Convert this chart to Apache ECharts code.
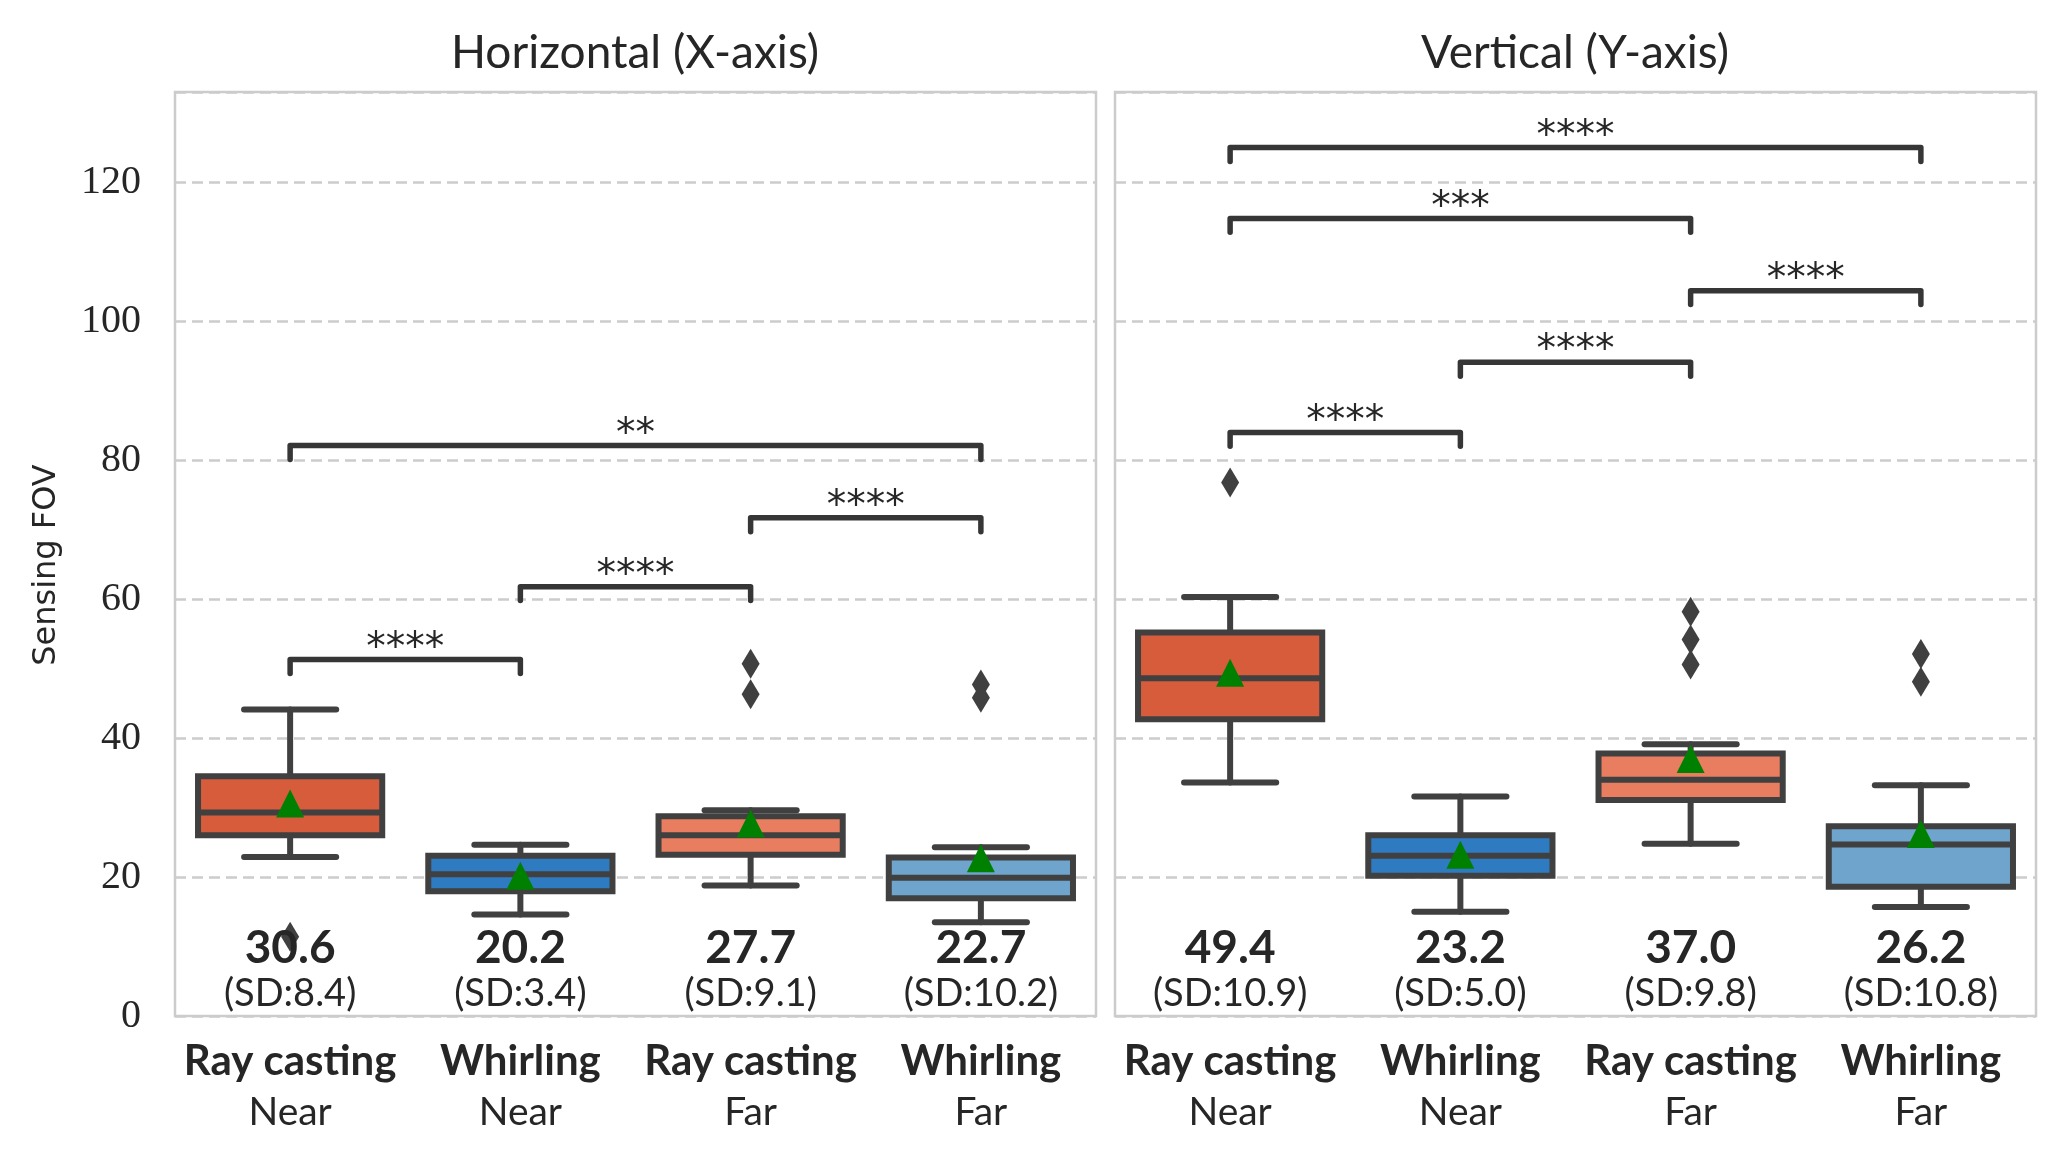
<!DOCTYPE html>
<html>
<head>
<meta charset="utf-8">
<script src="https://cdn.jsdelivr.net/npm/echarts@6/dist/echarts.min.js"></script>
<style>
html,body{margin:0;padding:0;background:#ffffff;}
#chart{width:2064px;height:1154px;}
</style>
</head>
<body>
<div id="chart"></div>
<script>
// ---------------- data ----------------
const techniques = ['Ray casting', 'Whirling', 'Ray casting', 'Whirling'];
const distances = ['Near', 'Near', 'Far', 'Far'];
const categories = ['Ray casting Near', 'Whirling Near', 'Ray casting Far', 'Whirling Far'];
const panelTitles = ['Horizontal (X-axis)', 'Vertical (Y-axis)'];
const yAxisName = 'Sensing FOV';
const yTicks = [0, 20, 40, 60, 80, 100, 120];

// box stats: [lower whisker, Q1, median, Q3, upper whisker]
const horizBox = [
  [22.9, 26.0, 29.3, 34.5, 44.1],
  [14.6, 17.95, 20.4, 23.05, 24.65],
  [18.8, 23.2, 26.0, 28.75, 29.6],
  [13.5, 16.95, 19.9, 22.8, 24.3]
];
const horizMean = [30.6, 20.2, 27.7, 22.7];
const horizSD = [8.4, 3.4, 9.1, 10.2];
const horizOutliers = [[0, 11.4], [2, 50.7], [2, 46.3], [3, 47.7], [3, 45.8]];
// [from category, to category, bracket height, label]
const horizBrackets = [
  [0, 1, 51.3, '****'],
  [1, 2, 61.8, '****'],
  [2, 3, 71.7, '****'],
  [0, 3, 82.1, '**']
];

const vertBox = [
  [33.6, 42.7, 48.6, 55.2, 60.3],
  [15.0, 20.2, 23.05, 26.0, 31.6],
  [24.8, 31.1, 34.0, 37.8, 39.1],
  [15.7, 18.6, 24.7, 27.3, 33.2]
];
const vertMean = [49.4, 23.2, 37.0, 26.2];
const vertSD = [10.9, 5.0, 9.8, 10.8];
const vertOutliers = [[0, 76.8], [2, 58.2], [2, 54.2], [2, 50.6], [3, 52.1], [3, 48.1]];
const vertBrackets = [
  [0, 1, 84.0, '****'],
  [1, 2, 94.1, '****'],
  [2, 3, 104.4, '****'],
  [0, 2, 114.8, '***'],
  [0, 3, 125.0, '****']
];

// ---------------- style ----------------
const BOX_COLORS = ['#d65c3b', '#2f7bc2', '#e87e5f', '#6fa5cd'];
const LINE_GRAY = '#404040';
const BRACKET_COLOR = '#363636';
const TEXT = '#262626';
const SANS = 'Lato, "Noto Sans", sans-serif';
const Y_MAX = 133;
const TICK_LEN = 2.0;
const NUM_LABEL_Y = 9.8;
const SD_LABEL_Y = 3.2;

function boxRenderer(params, api) {
  const i = api.value(0);
  const lo = api.coord([i, api.value(1)]);
  const q1 = api.coord([i, api.value(2)]);
  const med = api.coord([i, api.value(3)]);
  const q3 = api.coord([i, api.value(4)]);
  const hi = api.coord([i, api.value(5)]);
  const band = api.size([1, 0])[0];
  const bw = band * 0.8;
  const cw = bw / 2;
  const cx = med[0];
  const ls = { stroke: LINE_GRAY, lineWidth: 6, lineCap: 'round' };
  return {
    type: 'group',
    children: [
      { type: 'line', shape: { x1: cx, y1: q1[1], x2: cx, y2: lo[1] }, style: ls },
      { type: 'line', shape: { x1: cx, y1: q3[1], x2: cx, y2: hi[1] }, style: ls },
      { type: 'line', shape: { x1: cx - cw / 2, y1: lo[1], x2: cx + cw / 2, y2: lo[1] }, style: ls },
      { type: 'line', shape: { x1: cx - cw / 2, y1: hi[1], x2: cx + cw / 2, y2: hi[1] }, style: ls },
      { type: 'rect', shape: { x: cx - bw / 2, y: q3[1], width: bw, height: q1[1] - q3[1] },
        style: { fill: BOX_COLORS[i], stroke: LINE_GRAY, lineWidth: 6, lineJoin: 'miter' } },
      { type: 'line', shape: { x1: cx - bw / 2, y1: med[1], x2: cx + bw / 2, y2: med[1] },
        style: { stroke: LINE_GRAY, lineWidth: 6 } }
    ]
  };
}

function textSeries(p, valX, data, formatter, font) {
  return {
    type: 'scatter', xAxisIndex: valX, yAxisIndex: p, z: 6,
    symbolSize: 0, silent: true,
    itemStyle: { opacity: 1 },
    label: Object.assign({ show: true, position: 'inside', formatter: formatter, color: TEXT, opacity: 1 }, font),
    data: data
  };
}

function panelSeries(p, box, mean, sd, outliers, brackets) {
  const catX = p * 2;       // category axis index
  const valX = p * 2 + 1;   // hidden value axis index
  const series = [];
  series.push({
    type: 'custom', xAxisIndex: catX, yAxisIndex: p, z: 2,
    renderItem: boxRenderer,
    encode: { x: 0, y: [1, 2, 3, 4, 5] },
    data: box.map((b, i) => [i].concat(b))
  });
  series.push({
    type: 'scatter', xAxisIndex: valX, yAxisIndex: p, z: 3,
    symbol: 'diamond', symbolSize: [18, 30],
    itemStyle: { color: LINE_GRAY, opacity: 1 },
    data: outliers
  });
  series.push({
    type: 'scatter', xAxisIndex: valX, yAxisIndex: p, z: 4,
    symbol: 'triangle', symbolSize: [28, 28],
    itemStyle: { color: '#008000', opacity: 1 },
    data: mean.map((m, i) => [i, m])
  });
  brackets.forEach(br => {
    const [a, b, h, txt] = br;
    series.push({
      type: 'line', xAxisIndex: valX, yAxisIndex: p, z: 3,
      symbol: 'none', silent: true,
      lineStyle: { color: BRACKET_COLOR, width: 5.5, cap: 'round', join: 'round', opacity: 1 },
      data: [[a, h - TICK_LEN], [a, h], [b, h], [b, h - TICK_LEN]]
    });
    series.push(Object.assign(
      textSeries(p, valX, [[(a + b) / 2, h]], txt,
        { fontFamily: '"DejaVu Sans", sans-serif', fontSize: 39 }),
      {}));
    series[series.length - 1].label.offset = [0, -11];
  });
  series.push(textSeries(p, valX, mean.map((m, i) => [i, NUM_LABEL_Y, m]),
    pr => pr.data[2].toFixed(1),
    { fontFamily: SANS, fontWeight: 'bold', fontSize: 46 }));
  series.push(textSeries(p, valX, sd.map((s, i) => [i, SD_LABEL_Y, s]),
    pr => '(SD:' + pr.data[2].toFixed(1) + ')',
    { fontFamily: SANS, fontSize: 38 }));
  return series;
}

const grids = [
  { left: 175, top: 92, width: 921, height: 924 },
  { left: 1115, top: 92, width: 921, height: 924 }
].map(g => Object.assign(g, { show: true, borderColor: '#cccccc', borderWidth: 2.5, backgroundColor: 'transparent' }));

function catAxis(gi) {
  return {
    type: 'category', gridIndex: gi, data: categories,
    axisLine: { show: false }, axisTick: { show: false }, splitLine: { show: false },
    axisLabel: {
      margin: 20,
      formatter: (v, i) => '{b|' + techniques[i] + '}\n{n|' + distances[i] + '}',
      rich: {
        b: { fontFamily: SANS, fontWeight: 'bold', fontSize: 42, lineHeight: 51, color: TEXT },
        n: { fontFamily: SANS, fontSize: 39, lineHeight: 51, color: TEXT }
      }
    }
  };
}
function valXAxis(gi) {
  return { type: 'value', gridIndex: gi, min: -0.5, max: 3.5, show: false };
}
function yAxis(gi, showLabels) {
  return {
    type: 'value', gridIndex: gi, min: 0, max: Y_MAX, interval: 20,
    axisLine: { show: false }, axisTick: { show: false },
    splitLine: { show: true, lineStyle: { color: '#cccccc', width: 2.5, type: [11, 6] } },
    axisLabel: {
      show: showLabels, margin: 34,
      formatter: v => (yTicks.indexOf(v) >= 0 ? String(v) : ''),
      fontFamily: '"Liberation Serif", "DejaVu Serif", serif', fontSize: 40, color: TEXT
    }
  };
}

const option = {
  animation: false,
  backgroundColor: '#ffffff',
  grid: grids,
  xAxis: [catAxis(0), valXAxis(0), catAxis(1), valXAxis(1)],
  yAxis: [yAxis(0, true), yAxis(1, false)],
  graphic: [
    { type: 'text', x: 635, y: 53, style: { text: panelTitles[0], fill: TEXT, font: '46px ' + SANS, textAlign: 'center', textVerticalAlign: 'middle' } },
    { type: 'text', x: 1575, y: 53, style: { text: panelTitles[1], fill: TEXT, font: '46px ' + SANS, textAlign: 'center', textVerticalAlign: 'middle' } },
    { type: 'text', x: 47, y: 565, rotation: Math.PI / 2, style: { text: yAxisName, fill: TEXT, font: '32px "DejaVu Sans", sans-serif', textAlign: 'center', textVerticalAlign: 'middle' } }
  ],
  series: [].concat(
    panelSeries(0, horizBox, horizMean, horizSD, horizOutliers, horizBrackets),
    panelSeries(1, vertBox, vertMean, vertSD, vertOutliers, vertBrackets)
  )
};

const chart = echarts.init(document.getElementById('chart'), null, { renderer: 'canvas' });
chart.setOption(option);
</script>
</body>
</html>
